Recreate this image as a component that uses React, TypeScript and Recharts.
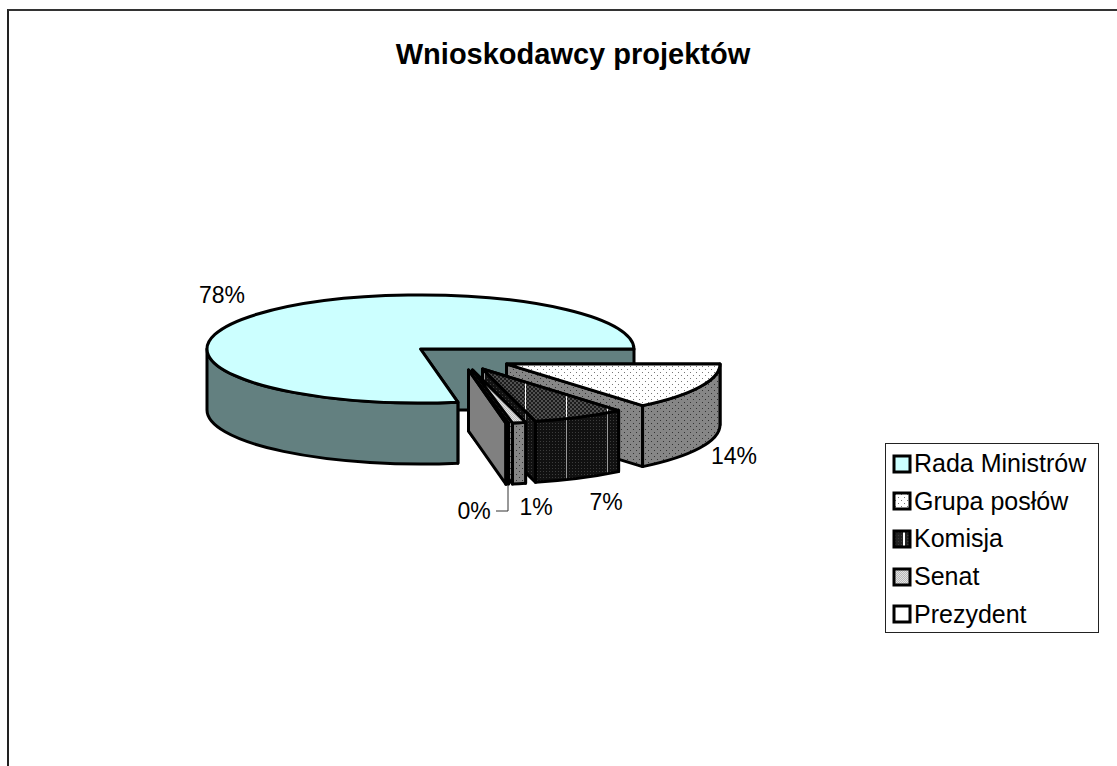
import { Legend, Pie, PieChart } from "recharts";

const categories = ["Rada Ministrów", "Grupa posłów", "Komisja", "Senat", "Prezydent"];
const shares = [77.8, 14, 7, 1, 0.2];

const tableData = categories.map((name, i) => ({ name, value: shares[i] }));

const FONT = "'Liberation Sans', Arial, sans-serif";
const TILT = 0.253; // ellipse height / width of the 3d pie
const DEPTH = 61;

// how each slice is pulled out of the pie and painted
const sliceLook: Record<string, { dx: number; dy: number; top: string; side: string; swatch: string }> = {
  "Rada Ministrów": { dx: 0, dy: 0, top: "#ccffff", side: "#638080", swatch: "#ccffff" },
  "Grupa posłów": { dx: 86, dy: 15, top: "url(#sparseDots)", side: "url(#greyDots)", swatch: "url(#sparseDots)" },
  Komisja: { dx: 62, dy: 20, top: "url(#checkLines)", side: "url(#darkLines)", swatch: "url(#swatchLines)" },
  Senat: { dx: 52, dy: 21, top: "url(#lightCheck)", side: "url(#greyDots)", swatch: "url(#lightCheck)" },
  Prezydent: { dx: 48, dy: 21, top: "#ffffff", side: "#808080", swatch: "#ffffff" },
};

const labelSpot: Record<string, { x: number; y: number }> = {
  "Rada Ministrów": { x: 222, y: 295 },
  "Grupa posłów": { x: 734, y: 456 },
  Komisja: { x: 606, y: 502 },
  Senat: { x: 536, y: 507 },
  Prezydent: { x: 474, y: 511 },
};

function Slice3D(props: any) {
  const look = sliceLook[props.name ?? props.payload?.name];
  const r = props.outerRadius;
  const ry = r * TILT;
  const cx = props.cx + look.dx;
  const cy = props.cy + look.dy;
  let s = props.startAngle;
  let e = props.endAngle;
  if (s <= -360) {
    s += 360;
    e += 360;
  }
  const at = (a: number) => {
    const t = (a * Math.PI) / 180;
    return { x: cx + r * Math.cos(t), y: cy - ry * Math.sin(t) };
  };
  const wall = (a: number) => {
    const p = at(a);
    return `M${cx},${cy} L${p.x},${p.y} L${p.x},${p.y + DEPTH} L${cx},${cy + DEPTH} Z`;
  };
  const walls = [s, e].sort((a, b) => at(a).y - at(b).y);

  const a0 = at(s);
  const a1 = at(e);
  const top = `M${cx},${cy} L${a0.x},${a0.y} A${r},${ry} 0 ${s - e > 180 ? 1 : 0} 1 ${a1.x},${a1.y} Z`;

  const fromA = Math.min(s, 0);
  const toA = Math.max(e, -180);
  const f = at(fromA);
  const t = at(toA);
  const rim = `M${f.x},${f.y} A${r},${ry} 0 0 1 ${t.x},${t.y} L${t.x},${t.y + DEPTH} A${r},${ry} 0 0 0 ${f.x},${f.y + DEPTH} Z`;

  const line = { stroke: "#000", strokeWidth: 3, strokeLinejoin: "round" as const };
  return (
    <g>
      {walls.map((a) => (
        <path key={a} d={wall(a)} fill={look.side} {...line} />
      ))}
      {toA < fromA && <path d={rim} fill={look.side} {...line} />}
      <path d={top} fill={look.top} {...line} />
    </g>
  );
}

function SliceLabel(props: any) {
  const name = props.name ?? props.payload?.name;
  const spot = labelSpot[name];
  return (
    <g>
      {name === "Prezydent" && (
        <polyline points="508,486 508,511 496,511" fill="none" stroke="#333" strokeWidth={1} />
      )}
      <text x={spot.x} y={spot.y} textAnchor="middle" dominantBaseline="central" fontFamily={FONT} fontSize={23} fill="#000">
        {`${Math.round(props.percent * 100)}%`}
      </text>
    </g>
  );
}

function LegendBox({ payload }: any) {
  return (
    <div
      style={{
        boxSizing: "border-box",
        width: 214,
        height: 190,
        border: "1px solid #222",
        background: "#fff",
        paddingTop: 1,
      }}
    >
      {(payload ?? []).map((item: any) => (
        <div
          key={item.value}
          style={{ display: "flex", alignItems: "center", height: 37.6, paddingLeft: 6, fontFamily: FONT, fontSize: 25, color: "#000" }}
        >
          <svg width={20} height={20} style={{ marginRight: 2, flex: "none" }}>
            <rect x={2} y={2} width={16} height={16} fill={sliceLook[item.value].swatch} stroke="#000" strokeWidth={3} />
          </svg>
          <span style={{ whiteSpace: "nowrap" }}>{item.value}</span>
        </div>
      ))}
    </div>
  );
}

export default function App() {
  return (
    <div style={{ position: "absolute", left: 0, top: 0, width: 1117, height: 766, background: "#fff", overflow: "hidden" }}>
      <div style={{ position: "absolute", left: 7, top: 9, right: -4, bottom: -4, borderTop: "2px solid #333", borderLeft: "2px solid #222" }} />
      <PieChart width={1117} height={766} margin={{ top: 0, right: 0, bottom: 0, left: 0 }} style={{ position: "absolute", left: 0, top: 0 }}>
        <defs>
          <pattern id="sparseDots" width={6} height={6} patternUnits="userSpaceOnUse">
            <rect width={6} height={6} fill="#fff" />
            <rect x={0} y={0} width={1} height={1} fill="#777" />
            <rect x={3} y={3} width={1} height={1} fill="#777" />
          </pattern>
          <pattern id="greyDots" width={6} height={6} patternUnits="userSpaceOnUse">
            <rect width={6} height={6} fill="#868686" />
            <rect x={0} y={0} width={1} height={1} fill="#333" />
            <rect x={3} y={3} width={1} height={1} fill="#333" />
          </pattern>
          <pattern id="lightCheck" width={2} height={2} patternUnits="userSpaceOnUse">
            <rect width={2} height={2} fill="#e4e4e4" />
            <rect x={0} y={0} width={1} height={1} fill="#b8b8b8" />
            <rect x={1} y={1} width={1} height={1} fill="#b8b8b8" />
          </pattern>
          <pattern id="checkLines" x={525} y={0} width={41} height={4} patternUnits="userSpaceOnUse">
            <rect width={41} height={4} fill="#1c1c1c" />
            <rect x={0} y={0} width={41} height={2} fill="url(#checkTile)" />
            <rect x={0} y={2} width={41} height={2} fill="url(#checkTileB)" />
            <rect x={0} y={0} width={1} height={4} fill="#fff" />
          </pattern>
          <pattern id="checkTile" width={4} height={2} patternUnits="userSpaceOnUse">
            <rect x={0} y={0} width={2} height={2} fill="#505050" />
          </pattern>
          <pattern id="checkTileB" width={4} height={2} patternUnits="userSpaceOnUse">
            <rect x={2} y={0} width={2} height={2} fill="#505050" />
          </pattern>
          <pattern id="darkLines" x={525} y={0} width={41} height={3} patternUnits="userSpaceOnUse">
            <rect width={41} height={3} fill="#111" />
            <rect x={0} y={0} width={41} height={1} fill="url(#darkTile)" />
            <rect x={0} y={0} width={1} height={3} fill="#9a9a9a" />
          </pattern>
          <pattern id="darkTile" width={3} height={1} patternUnits="userSpaceOnUse">
            <rect x={0} y={0} width={1} height={1} fill="#3c3c3c" />
          </pattern>
          <pattern id="swatchLines" x={0} y={0} width={16} height={3} patternUnits="userSpaceOnUse">
            <rect width={16} height={3} fill="#222" />
            <rect x={0} y={0} width={16} height={1} fill="url(#darkTile)" />
            <rect x={11} y={0} width={2} height={3} fill="#fff" />
          </pattern>
        </defs>
        <text x={573} y={54} textAnchor="middle" dominantBaseline="central" fontFamily={FONT} fontSize={29} fontWeight="bold" fill="#000">
          Wnioskodawcy projektów
        </text>
        <Pie
          data={tableData}
          dataKey="value"
          nameKey="name"
          cx={420.5}
          cy={349}
          outerRadius={213.5}
          startAngle={-79.92}
          endAngle={-439.92}
          stroke="none"
          shape={(props: any) => <Slice3D {...props} />}
          label={(props: any) => <SliceLabel {...props} />}
          labelLine={false}
          isAnimationActive={false}
        />
        <Legend
          layout="vertical"
          align="right"
          verticalAlign="top"
          itemSorter={null}
          content={(props: any) => <LegendBox {...props} />}
          wrapperStyle={{ left: 885, top: 443, right: "auto", width: 214 }}
        />
      </PieChart>
    </div>
  );
}
